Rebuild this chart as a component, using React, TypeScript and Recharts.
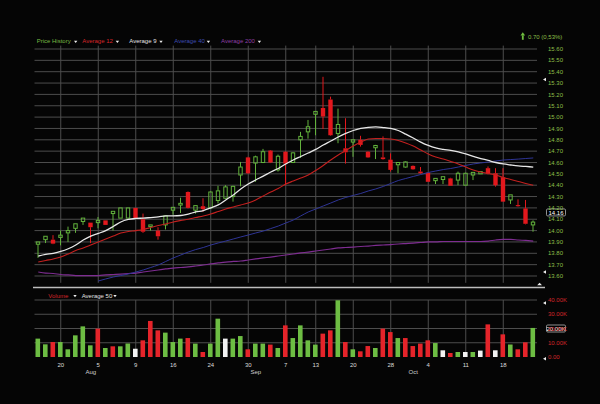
import React from 'react'
import { ComposedChart, BarChart, Bar, Line, XAxis, YAxis, CartesianGrid, ReferenceLine, Cell } from 'recharts'

// daily candles
const opens = [
  13.88, 13.92, 13.92, 13.94, 13.98, 14.02, 14.08, 14.07, 14.07, 14.09,
  14.15, 14.11, 14.11, 14.20, 14.10, 14.035, 14.00, 14.05, 14.18, 14.225,
  14.34, 14.18, 14.215, 14.20, 14.265, 14.285, 14.30, 14.49, 14.645, 14.595,
  14.60, 14.705, 14.535, 14.695, 14.60, 14.80, 14.87, 15.025, 15.08, 15.155,
  14.855, 14.725, 14.78, 14.80, 14.695, 14.73, 14.645, 14.625, 14.58, 14.56,
  14.57, 14.52, 14.51, 14.44, 14.45, 14.46, 14.445, 14.40, 14.49, 14.50,
  14.55, 14.505, 14.47, 14.27, 14.225, 14.195, 14.05,
]
const highs = [
  13.90, 13.95, 13.96, 14.00, 14.035, 14.06, 14.11, 14.07, 14.12, 14.09,
  14.17, 14.20, 14.20, 14.20, 14.15, 14.05, 14.03, 14.13, 14.205, 14.29,
  14.345, 14.22, 14.285, 14.345, 14.395, 14.40, 14.395, 14.605, 14.65, 14.66,
  14.72, 14.71, 14.67, 14.70, 14.69, 14.87, 14.975, 15.05, 15.355, 15.18,
  15.075, 14.99, 14.80, 14.835, 14.70, 14.755, 14.83, 14.68, 14.60, 14.61,
  14.575, 14.56, 14.515, 14.46, 14.475, 14.465, 14.52, 14.51, 14.515, 14.52,
  14.565, 14.55, 14.55, 14.315, 14.275, 14.27, 14.09,
]
const lows = [
  13.76, 13.89, 13.88, 13.87, 13.90, 13.98, 14.05, 13.89, 14.02, 14.05,
  14.00, 14.11, 14.11, 14.11, 13.98, 14.00, 13.92, 14.01, 14.14, 14.155,
  14.195, 14.15, 14.165, 14.195, 14.24, 14.28, 14.255, 14.39, 14.50, 14.43,
  14.595, 14.595, 14.52, 14.40, 14.595, 14.64, 14.81, 14.84, 14.895, 14.835,
  14.77, 14.59, 14.65, 14.74, 14.64, 14.63, 14.625, 14.52, 14.505, 14.555,
  14.535, 14.50, 14.43, 14.41, 14.41, 14.395, 14.40, 14.40, 14.445, 14.50,
  14.495, 14.387, 14.255, 14.235, 14.21, 14.055, 13.99,
]
const closes = [
  13.90, 13.95, 13.885, 13.96, 14.00, 14.06, 14.11, 14.03, 14.09, 14.05,
  14.17, 14.20, 14.20, 14.11, 13.99, 14.05, 13.95, 14.13, 14.205, 14.24,
  14.20, 14.22, 14.19, 14.34, 14.35, 14.385, 14.39, 14.56, 14.505, 14.65,
  14.695, 14.60, 14.655, 14.59, 14.685, 14.83, 14.915, 15.05, 15.005, 14.84,
  14.935, 14.69, 14.80, 14.755, 14.645, 14.75, 14.63, 14.535, 14.60, 14.605,
  14.54, 14.505, 14.43, 14.46, 14.475, 14.395, 14.505, 14.505, 14.513, 14.52,
  14.50, 14.40, 14.255, 14.315, 14.215, 14.06, 14.075,
]

// moving averages
const avg9 = [
  13.776, 13.79, 13.80, 13.816, 13.84, 13.873, 13.917, 13.952, 13.975, 14.00,
  14.036, 14.076, 14.098, 14.107, 14.11, 14.115, 14.12, 14.13, 14.13, 14.133,
  14.146, 14.164, 14.177, 14.20, 14.226, 14.27, 14.314, 14.366, 14.41, 14.446,
  14.48, 14.516, 14.547, 14.587, 14.622, 14.653, 14.684, 14.715, 14.754, 14.789,
  14.825, 14.856, 14.882, 14.90, 14.91, 14.913, 14.908, 14.90, 14.882, 14.85,
  14.816, 14.78, 14.75, 14.728, 14.715, 14.706, 14.693, 14.675, 14.653, 14.635,
  14.618, 14.60, 14.587, 14.578, 14.57, 14.565, 14.56,
]
const avg12 = [
  13.723, 13.737, 13.75, 13.767, 13.794, 13.825, 13.847, 13.873, 13.90, 13.926,
  13.952, 13.979, 13.992, 14.00, 14.01, 14.027, 14.045, 14.058, 14.076, 14.089,
  14.10, 14.115, 14.129, 14.146, 14.168, 14.19, 14.208, 14.226, 14.243, 14.27,
  14.305, 14.34, 14.371, 14.41, 14.437, 14.463, 14.49, 14.53, 14.574, 14.622,
  14.666, 14.705, 14.745, 14.78, 14.807, 14.811, 14.811, 14.807, 14.794, 14.772,
  14.745, 14.71, 14.675, 14.648, 14.63, 14.609, 14.587, 14.56, 14.534, 14.516,
  14.503, 14.49, 14.468, 14.45, 14.433, 14.415, 14.40,
]
const avg40 = [
  null, null, null, null, null, null, null, null, 13.556, 13.574,
  13.591, 13.604, 13.617, 13.635, 13.653, 13.675, 13.697, 13.728, 13.759, 13.785,
  13.811, 13.833, 13.851, 13.873, 13.891, 13.908, 13.926, 13.944, 13.961, 13.979,
  13.996, 14.018, 14.04, 14.067, 14.093, 14.129, 14.164, 14.19, 14.217, 14.243,
  14.27, 14.292, 14.31, 14.327, 14.349, 14.367, 14.389, 14.415, 14.441, 14.459,
  14.477, 14.494, 14.512, 14.525, 14.538, 14.547, 14.56, 14.574, 14.587, 14.596,
  14.604, 14.613, 14.622, 14.626, 14.63, 14.635, 14.64,
]
const avg200 = [
  13.635, 13.626, 13.622, 13.613, 13.609, 13.604, 13.604, 13.604, 13.604, 13.609,
  13.613, 13.617, 13.622, 13.626, 13.635, 13.644, 13.653, 13.662, 13.67, 13.675,
  13.68, 13.688, 13.697, 13.706, 13.715, 13.723, 13.728, 13.732, 13.741, 13.75,
  13.759, 13.767, 13.776, 13.785, 13.794, 13.803, 13.811, 13.82, 13.829, 13.838,
  13.847, 13.851, 13.855, 13.86, 13.864, 13.869, 13.873, 13.877, 13.882, 13.886,
  13.89, 13.895, 13.90, 13.90, 13.904, 13.904, 13.904, 13.904, 13.904, 13.904,
  13.908, 13.917, 13.922, 13.922, 13.917, 13.913, 13.908,
]

// volume and its colour class: u = up, d = down, n = unchanged
const volumes = [
  12900, 8900, 10500, 10500, 5400, 15200, 21500, 8200, 19900, 6300,
  7500, 7500, 9400, 5800, 11700, 25300, 18700, 17100, 10500, 12900,
  13300, 9400, 3500, 9400, 26900, 12900, 12900, 14700, 5400, 9400,
  9400, 8700, 6300, 22200, 13300, 22200, 11700, 8700, 16400, 18700,
  39800, 10500, 5400, 4000, 7700, 6300, 19900, 17500, 13300, 13300,
  7700, 9400, 11700, 9800, 4700, 2800, 3500, 3500, 3500, 4500,
  22900, 4700, 15900, 8700, 5400, 10300, 20400,
]
const volumeDir = [
  'u', 'u', 'd', 'u', 'u', 'u', 'u', 'u', 'd', 'u',
  'd', 'u', 'u', 'n', 'd', 'd', 'd', 'u', 'u', 'u',
  'd', 'u', 'd', 'u', 'u', 'n', 'u', 'u', 'd', 'u',
  'u', 'd', 'u', 'd', 'u', 'u', 'u', 'u', 'd', 'd',
  'u', 'd', 'u', 'd', 'd', 'u', 'd', 'd', 'u', 'd',
  'd', 'd', 'd', 'u', 'n', 'd', 'u', 'n', 'u', 'n',
  'd', 'n', 'd', 'u', 'd', 'd', 'u',
]

const dayTickIdx = [3, 8, 13, 18, 23, 28, 33, 37, 42, 47, 52, 57, 62]
const dayTickLabels = ['20', '5', '9', '16', '24', '30', '7', '13', '20', '28', '4', '11', '18']
const monthTickIdx = [7, 29, 50]
const monthTickLabels = ['Aug', 'Sep', 'Oct']
const priceTicks = [
  13.6, 13.7, 13.8, 13.9, 14.0, 14.1, 14.2, 14.3, 14.4, 14.5, 14.6,
  14.7, 14.8, 14.9, 15.0, 15.1, 15.2, 15.3, 15.4, 15.5, 15.6,
]
const volumeTicks = [0, 10000, 20000, 30000, 40000]
const volumeGrid = [10000, 20000, 30000, 40000]
const lastPrice = 14.16
const lastVolume = 20000
const changeText = '0.70 (0,53%)'

const FONT = "'Liberation Sans', Arial, sans-serif"
const GREEN = '#62b23c'
const RED = '#e2181d'
const GRID = '#4d4d4d'
const volColors: Record<string, string> = { u: '#6dbd43', d: '#e5242a', n: '#f2f2f2' }

const rows = opens.map((o, i) => ({
  i,
  open: o,
  high: highs[i],
  low: lows[i],
  close: closes[i],
  range: [lows[i], highs[i]],
  avg9: avg9[i],
  avg12: avg12[i],
  avg40: avg40[i],
  avg200: avg200[i],
  volume: volumes[i],
  dir: volumeDir[i],
}))

function Candle(props: any) {
  const { x, y, width, height, payload } = props
  if (!payload || !height) return null
  const { open, close, high, low } = payload
  const up = close >= open
  const k = height / (high - low)
  const top = y + (high - Math.max(open, close)) * k
  let bot = y + (high - Math.min(open, close)) * k
  if (bot - top < 1) bot = top + 1
  const cx = x + width / 2
  const c = up ? GREEN : RED
  const bw = 4.4
  return (
    <g>
      <line x1={cx} x2={cx} y1={y} y2={top} stroke={c} strokeWidth={1} />
      <line x1={cx} x2={cx} y1={bot} y2={y + height} stroke={c} strokeWidth={1} />
      {up ? (
        <rect x={cx - bw / 2 + 0.5} y={top} width={bw - 1} height={bot - top} fill="none" stroke={c} strokeWidth={1} />
      ) : (
        <rect x={cx - bw / 2} y={top} width={bw} height={bot - top} fill={c} />
      )}
    </g>
  )
}

function Tag(props: any) {
  const vb = props.viewBox
  if (!vb) return null
  const bx = vb.x + vb.width + 9.5
  return (
    <g>
      <rect x={bx} y={vb.y - 3.5} width={19} height={7} rx={1.2} fill="#000" stroke="#b5b5b5" strokeWidth={0.8} />
      <text x={bx + 9.5} y={vb.y + 2.1} textAnchor="middle" fill="#fff" fontSize={6} fontFamily={FONT}>
        {props.text}
      </text>
    </g>
  )
}

function Caret({ x, y }: { x: number; y: number }) {
  return <polygon points={`${x},${y} ${x + 3.4},${y} ${x + 1.7},${y + 2.2}`} fill="#eee" />
}

const priceLegend = [
  { text: 'Price History', color: '#79b844', x: 36.7, caret: 74 },
  { text: 'Average 12', color: '#d8262a', x: 82.3, caret: 115.7 },
  { text: 'Average 9', color: '#e2e2e2', x: 129.3, caret: 159.3 },
  { text: 'Average 40', color: '#3d4cb0', x: 174.3, caret: 206.7 },
  { text: 'Average 200', color: '#8f3fa3', x: 221, caret: 257.7 },
]

export default function App() {
  const axisText = { fontSize: 6, fontFamily: FONT }
  return (
    <div style={{ position: 'absolute', left: 0, top: 0, width: 600, height: 404, background: '#050505', overflow: 'hidden' }}>
      <div style={{ position: 'absolute', left: 0, top: 0 }}>
        <ComposedChart width={600} height={290} data={rows} margin={{ top: 45.6, right: 0, left: 34.5, bottom: 7.2 }}>
          <CartesianGrid stroke={GRID} strokeWidth={1} syncWithTicks horizontalValues={priceTicks} verticalValues={dayTickIdx} />
          <XAxis dataKey="i" hide ticks={dayTickIdx} interval={0} />
          <YAxis
            orientation="right"
            width={63}
            domain={[13.54, 15.63]}
            allowDataOverflow
            ticks={priceTicks}
            interval={0}
            tickFormatter={(v: number) => v.toFixed(2)}
            axisLine={false}
            tickLine={false}
            tickSize={0}
            tickMargin={11}
            tick={{ ...axisText, fill: '#8cbf47' }}
          />
          <Line dataKey="avg200" type="monotone" stroke="#7e2d91" strokeWidth={1.2} dot={false} isAnimationActive={false} />
          <Line dataKey="avg40" type="monotone" stroke="#2f3596" strokeWidth={1} dot={false} isAnimationActive={false} />
          <Line dataKey="avg12" type="monotone" stroke="#c4201f" strokeWidth={1.1} dot={false} isAnimationActive={false} />
          <Line dataKey="avg9" type="monotone" stroke="#e8e8e8" strokeWidth={1.3} dot={false} isAnimationActive={false} />
          <Bar dataKey="range" barSize={5} shape={<Candle />} isAnimationActive={false} />
          <ReferenceLine y={lastPrice} stroke="none" label={(p: any) => <Tag viewBox={p.viewBox} text={lastPrice.toFixed(2)} />} />
        </ComposedChart>
      </div>
      <div style={{ position: 'absolute', left: 0, top: 288 }}>
        <BarChart width={600} height={116} data={rows} margin={{ top: 12, right: 0, left: 34.5, bottom: 19 }}>
          <CartesianGrid stroke={GRID} strokeWidth={1} syncWithTicks horizontalValues={volumeGrid} verticalValues={dayTickIdx} />
          <XAxis
            dataKey="i"
            ticks={dayTickIdx}
            interval={0}
            tickFormatter={(v: number) => dayTickLabels[dayTickIdx.indexOf(v)] ?? ''}
            axisLine={false}
            tickLine={false}
            tickSize={0}
            tickMargin={6}
            height={8}
            tick={{ ...axisText, fill: '#dcdcdc' }}
          />
          <XAxis
            xAxisId="m"
            dataKey="i"
            ticks={monthTickIdx}
            interval={0}
            tickFormatter={(v: number) => monthTickLabels[monthTickIdx.indexOf(v)] ?? ''}
            axisLine={false}
            tickLine={false}
            tickSize={0}
            tickMargin={5}
            height={20}
            tick={{ ...axisText, fill: '#cfcfcf' }}
          />
          <YAxis
            orientation="right"
            width={63}
            domain={[0, 40000]}
            ticks={volumeTicks}
            interval={0}
            tickFormatter={(v: number) => (v === 0 ? '0.00' : (v / 1000).toFixed(2) + 'K')}
            axisLine={false}
            tickLine={false}
            tickSize={0}
            tickMargin={11}
            tick={{ ...axisText, fill: '#d3262a' }}
          />
          <Bar dataKey="volume" barSize={4.6} isAnimationActive={false}>
            {rows.map((r) => (
              <Cell key={r.i} fill={volColors[r.dir]} />
            ))}
          </Bar>
          <Bar xAxisId="m" dataKey="volume" fill="none" isAnimationActive={false} legendType="none" />
          <ReferenceLine y={lastVolume} stroke="none" label={(p: any) => <Tag viewBox={p.viewBox} text={(lastVolume / 1000).toFixed(2) + 'K'} />} />
        </BarChart>
      </div>
      <svg width={600} height={404} style={{ position: 'absolute', left: 0, top: 0, pointerEvents: 'none' }}>
        {priceLegend.map((l) => (
          <g key={l.text}>
            <text x={l.x} y={43.3} fill={l.color} fontSize={6} fontFamily={FONT}>{l.text}</text>
            <Caret x={l.caret} y={40.8} />
          </g>
        ))}
        <text x={48.3} y={297.5} fill="#d8262a" fontSize={6} fontFamily={FONT}>Volume</text>
        <Caret x={73.3} y={295} />
        <text x={81.7} y={297.5} fill="#e2e2e2" fontSize={6} fontFamily={FONT}>Average 50</text>
        <Caret x={113.3} y={295} />
        <polygon points="520.5,35.6 525.1,35.6 522.8,32.3" fill="#6fbf3f" />
        <rect x={521.9} y={35.4} width={1.8} height={4.4} fill="#6fbf3f" />
        <text x={528} y={39.3} fill="#8cbf47" fontSize={6} fontFamily={FONT}>{changeText}</text>
        <line x1={33} x2={545} y1={287.5} y2={287.5} stroke="#bdbdbd" strokeWidth={1.5} />
        <polygon points="543,79.5 546,77.8 546,81.2" fill="#eee" />
        <polygon points="543,272 546,270.3 546,273.7" fill="#eee" />
        <polygon points="537.2,285.3 542,285.3 539.6,282.7" fill="#eee" />
        <polygon points="543,303 546,301.3 546,304.7" fill="#eee" />
        <polygon points="543,358.7 546,357 546,360.4" fill="#eee" />
      </svg>
    </div>
  )
}
